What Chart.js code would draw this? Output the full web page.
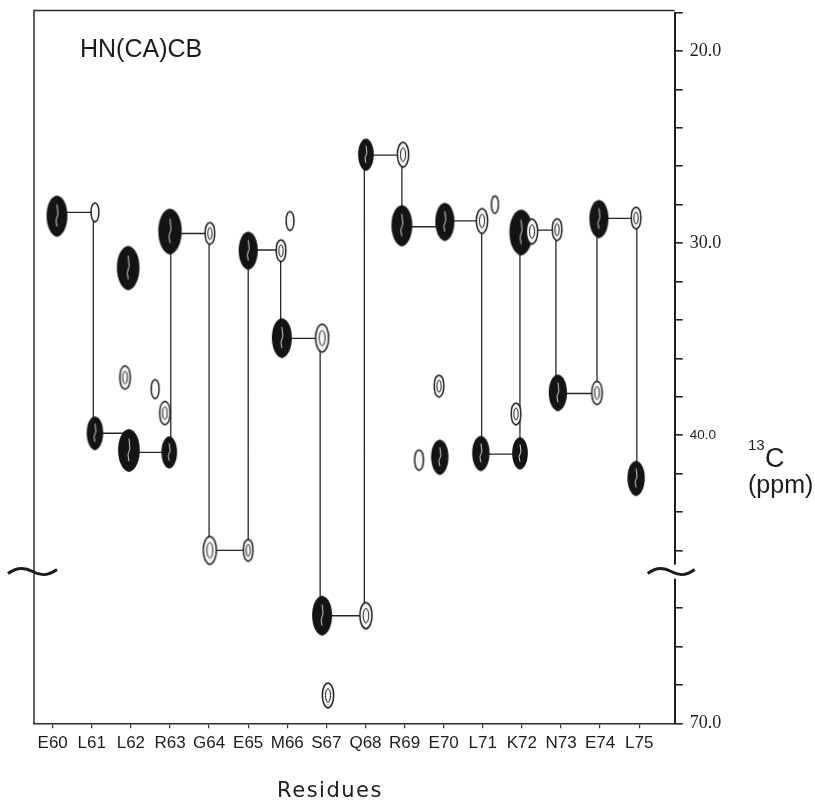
<!DOCTYPE html>
<html>
<head>
<meta charset="utf-8">
<title>HN(CA)CB</title>
<script src="https://cdn.jsdelivr.net/npm/chart.js@4.4.0/dist/chart.umd.min.js"></script>
<style>
  html, body { margin: 0; padding: 0; background: #fff; }
  #wrap { width: 815px; height: 801px; }
</style>
</head>
<body>
<div id="wrap"><canvas id="strips" width="815" height="801"></canvas></div>
<script>
// residue strips along the x axis
const residues = ['E60', 'L61', 'L62', 'R63', 'G64', 'E65', 'M66', 'S67',
                  'Q68', 'R69', 'E70', 'L71', 'K72', 'N73', 'E74', 'L75'];

// cross peaks: strip position (residue index), 13C shift (ppm), relative intensity
const peakX = [0.11, 1.08, 1.08, 1.93, 1.85, 1.95, 3.00, 2.62, 2.87, 2.98,
               4.02, 4.02, 5.00, 5.00, 5.84, 6.07, 5.86, 6.89, 6.89, 7.04,
               8.01, 8.01, 8.96, 8.93, 9.37, 10.03, 9.88, 9.90, 10.98, 11.31,
               10.95, 11.98, 12.26, 11.85, 11.95, 12.90, 12.92, 13.97, 13.92, 14.92,
               14.92];
const peakPpm = [28.6, 28.4, 39.9, 31.3, 37.0, 40.8, 29.4, 37.6, 38.85, 40.9,
                 29.5, 46.0, 30.4, 46.0, 30.4, 28.85, 34.95, 34.95, 64.4, 68.55,
                 25.4, 64.4, 25.4, 29.1, 41.3, 28.9, 37.45, 41.15, 28.85, 28.0,
                 40.95, 29.45, 29.4, 38.9, 40.95, 29.3, 37.8, 28.75, 37.8, 28.7,
                 42.25];
const peakIntensity = [0.85, 0.1, 0.6, 0.95, 0.25, 0.9, 1.0, 0.1, 0.25, 0.55,
                       0.2, 0.4, 0.75, 0.2, 0.2, 0.1, 0.8, 0.4, 0.8, 0.3,
                       0.55, 0.35, 0.3, 0.85, 0.15, 0.75, 0.2, 0.65, 0.3, 0.05,
                       0.65, 1.0, 0.3, 0.2, 0.55, 0.2, 0.7, 0.75, 0.25, 0.2,
                       0.65];

// sequential walk connecting the strips
const walkX = [0.11, 1.04, 1.04, 1.95, 1.95, 3.02, 3.02, 4.00, 4.00, 5.00,
               5.00, 5.83, 5.83, 6.84, 6.84, 7.97, 7.97, 8.93, 8.93, 10.03,
               10.03, 10.97, 10.97, 11.95, 11.95, 12.87, 12.87, 13.92, 13.92, 14.94,
               14.94];
const walkPpm = [28.4, 28.4, 39.9, 39.9, 40.9, 40.9, 29.5, 29.5, 46.0, 46.0,
                 30.36, 30.36, 34.96, 34.96, 64.4, 64.4, 25.42, 25.42, 29.15, 29.15,
                 28.84, 28.84, 40.99, 40.99, 29.32, 29.32, 37.83, 37.83, 28.71, 28.71,
                 42.24];

// y axis ticks (ppm) and which of them carry a label
const ppmTicks = [18, 20, 22, 24, 26, 28, 30, 32, 34, 36, 38, 40, 42, 44, 46, 64, 66, 68, 70];
const ppmLabels = [20, 30, 40, 70];

// axis break: 47..62 ppm is cut out
const BREAK_LOW = 47;
const BREAK_HIGH = 62;
const GAP = BREAK_HIGH - BREAK_LOW;

function toAxis(ppm) { return ppm > BREAK_LOW ? ppm - GAP : ppm; }
function toPpm(v) { return v > BREAK_LOW ? v + GAP : v; }

const SANS = "'Liberation Sans', Arial, Helvetica, sans-serif";
const SERIF = "'Liberation Serif', 'Times New Roman', serif";
const INK = '#1c1c1c';

// contour-like oval shapes for the peaks
function makePeak(I) {
  const w = 6 + 17 * I;
  const h = 16 + 30 * I;
  const c = document.createElement('canvas');
  c.width = Math.ceil(w + 6);
  c.height = Math.ceil(h + 6);
  const g = c.getContext('2d');
  const cx = c.width / 2, cy = c.height / 2;
  const oval = (sw, sh) => {
    g.beginPath();
    g.moveTo(cx, cy - sh / 2);
    g.bezierCurveTo(cx + sw * 0.68, cy - sh * 0.45, cx + sw * 0.68, cy + sh * 0.42, cx, cy + sh / 2);
    g.bezierCurveTo(cx - sw * 0.68, cy + sh * 0.42, cx - sw * 0.68, cy - sh * 0.45, cx, cy - sh / 2);
    g.closePath();
  };
  if (I >= 0.5) {
    oval(w, h);
    g.fillStyle = '#141414';
    g.fill();
    // light streaks where the contours open up
    g.strokeStyle = 'rgba(255,255,255,0.8)';
    g.lineWidth = 1;
    g.beginPath();
    g.moveTo(cx, cy - h * 0.28);
    g.lineTo(cx + 1, cy - h * 0.05);
    g.lineTo(cx - 1, cy + h * 0.1);
    g.lineTo(cx, cy + h * 0.25);
    g.stroke();
  } else {
    oval(w, h);
    g.fillStyle = '#f6f6f6';
    g.fill();
    g.strokeStyle = '#222';
    g.lineWidth = 1.5;
    g.stroke();
    if (I >= 0.2) {
      oval(w * 0.45, h * 0.55);
      g.lineWidth = 1;
      g.stroke();
    }
  }
  return c;
}

const peakImages = peakIntensity.map(makePeak);
const peakData = peakX.map((x, i) => ({ x: x, y: toAxis(peakPpm[i]) }));
const walkData = walkX.map((x, i) => ({ x: x, y: toAxis(walkPpm[i]) }));

function drawTilde(ctx, x0, x1, y) {
  const w = x1 - x0;
  ctx.beginPath();
  ctx.moveTo(x0, y + 2);
  ctx.bezierCurveTo(x0 + w * 0.2, y - 5, x0 + w * 0.35, y - 4, x0 + w * 0.5, y);
  ctx.bezierCurveTo(x0 + w * 0.65, y + 4, x0 + w * 0.8, y + 5, x1, y - 2);
  ctx.stroke();
}

// frame, break marks and free text
const decorations = {
  id: 'decorations',
  afterDraw(chart) {
    const ctx = chart.ctx;
    const a = chart.chartArea;
    const ys = chart.scales.y;
    ctx.save();

    ctx.strokeStyle = '#2a2a2a';
    ctx.lineWidth = 1.5;
    ctx.beginPath();
    ctx.moveTo(a.left, a.bottom);
    ctx.lineTo(a.left, a.top - 2);
    ctx.lineTo(a.right, a.top - 2);
    ctx.stroke();

    // break in the carbon axis
    const yb = ys.getPixelForValue(BREAK_LOW + 0.1);
    ctx.fillStyle = '#fff';
    ctx.fillRect(a.right - 3, yb - 7, 6, 14);
    ctx.strokeStyle = INK;
    ctx.lineWidth = 3;
    drawTilde(ctx, 8, 57, yb);
    drawTilde(ctx, a.right - 27, a.right + 20, yb);

    ctx.fillStyle = INK;
    ctx.textBaseline = 'alphabetic';
    ctx.textAlign = 'left';
    ctx.font = '25px ' + SANS;
    ctx.fillText('HN(CA)CB', 80, 57);

    ctx.font = '15px ' + SANS;
    ctx.fillText('13', 748, 450);
    ctx.font = '27px ' + SANS;
    ctx.fillText('C', 765, 467);
    ctx.font = '25px ' + SANS;
    ctx.fillText('(ppm)', 748, 493);

    ctx.textAlign = 'center';
    ctx.font = "21px 'DejaVu Sans', " + SANS;
    ctx.letterSpacing = '1.5px';
    ctx.fillText('Residues', 330, 797);
    ctx.restore();
  }
};

new Chart(document.getElementById('strips'), {
  data: {
    datasets: [
      {
        type: 'line',
        label: 'walk',
        data: walkData,
        borderColor: '#262626',
        borderWidth: 1.3,
        pointRadius: 0,
        tension: 0,
        fill: false,
        order: 2
      },
      {
        type: 'scatter',
        label: 'peaks',
        data: peakData,
        pointStyle: (c) => peakImages[c.dataIndex],
        pointRadius: 8,
        order: 1
      }
    ]
  },
  options: {
    responsive: false,
    animation: false,
    events: [],
    layout: { padding: { top: 12.6, left: 34, right: 0, bottom: 0 } },
    plugins: {
      legend: { display: false },
      tooltip: { enabled: false }
    },
    scales: {
      x: {
        type: 'linear',
        position: 'bottom',
        min: -0.478,
        max: 15.908,
        afterBuildTicks: (s) => { s.ticks = residues.map((r, i) => ({ value: i })); },
        afterFit: (s) => { s.height = 77.7; s.paddingLeft = 0; s.paddingRight = 0; },
        ticks: {
          autoSkip: false,
          maxRotation: 0,
          padding: 5,
          color: INK,
          font: { family: SANS, size: 17 },
          callback: (v) => residues[v]
        },
        grid: { drawOnChartArea: false, tickLength: 5, color: '#333', lineWidth: 1.2 },
        border: { color: '#2a2a2a', width: 1.6 }
      },
      y: {
        type: 'linear',
        position: 'right',
        reverse: true,
        min: 18,
        max: 55,
        afterBuildTicks: (s) => { s.ticks = ppmTicks.map((p) => ({ value: toAxis(p) })); },
        afterFit: (s) => { s.width = 140.3; s.paddingTop = 0; s.paddingBottom = 0; },
        ticks: {
          autoSkip: false,
          padding: 7,
          color: INK,
          font: (c) => {
            const p = c.tick ? Math.round(toPpm(c.tick.value)) : 0;
            return p === 40 ? { family: SANS, size: 13.5 } : { family: SERIF, size: 18 };
          },
          callback: (v) => {
            const p = Math.round(toPpm(v));
            return ppmLabels.includes(p) ? p.toFixed(1) : '';
          }
        },
        grid: { drawOnChartArea: false, tickLength: 8, color: '#222', lineWidth: 1.6 },
        border: { color: '#1e1e1e', width: 2 }
      }
    }
  },
  plugins: [decorations]
});
</script>
</body>
</html>
